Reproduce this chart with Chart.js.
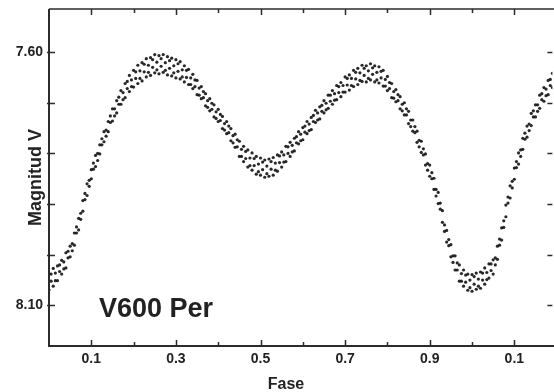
<!DOCTYPE html>
<html>
<head>
<meta charset="utf-8">
<title>V600 Per</title>
<script src="https://cdn.jsdelivr.net/npm/chart.js@4.4.0/dist/chart.umd.min.js"></script>
<style>
  html, body { margin: 0; padding: 0; background: #fff; }
  #lightcurve { display: block; }
</style>
</head>
<body>
<canvas id="lightcurve" width="554" height="392"></canvas>
<script>
"use strict";

var phases = [
  0.00, 0.01, 0.02, 0.03, 0.04, 0.05, 0.06, 0.07, 0.08, 0.09,
  0.10, 0.11, 0.12, 0.13, 0.14, 0.15, 0.16, 0.17, 0.18, 0.19,
  0.20, 0.21, 0.22, 0.23, 0.24, 0.25, 0.26, 0.27, 0.28, 0.29,
  0.30, 0.31, 0.32, 0.33, 0.34, 0.35, 0.36, 0.37, 0.38, 0.39,
  0.40, 0.41, 0.42, 0.43, 0.44, 0.45, 0.46, 0.47, 0.48, 0.49,
  0.50, 0.51, 0.52, 0.53, 0.54, 0.55, 0.56, 0.57, 0.58, 0.59,
  0.60, 0.61, 0.62, 0.63, 0.64, 0.65, 0.66, 0.67, 0.68, 0.69,
  0.70, 0.71, 0.72, 0.73, 0.74, 0.75, 0.76, 0.77, 0.78, 0.79,
  0.80, 0.81, 0.82, 0.83, 0.84, 0.85, 0.86, 0.87, 0.88, 0.89,
  0.90, 0.91, 0.92, 0.93, 0.94, 0.95, 0.96, 0.97, 0.98, 0.99,
  1.00, 1.01, 1.02, 1.03, 1.04, 1.05, 1.06, 1.07, 1.08, 1.09,
  1.10, 1.11, 1.12, 1.13, 1.14, 1.15, 1.16, 1.17, 1.18, 1.19
];

// bright edge of the scatter band (V mag)
var magUpper = [
  8.037, 8.027, 8.022, 8.011, 7.996, 7.983, 7.957, 7.928, 7.893, 7.860,
  7.832, 7.804, 7.783, 7.757, 7.737, 7.712, 7.696, 7.676, 7.662, 7.646,
  7.636, 7.626, 7.621, 7.613, 7.611, 7.605, 7.607, 7.605, 7.609, 7.612,
  7.615, 7.619, 7.627, 7.634, 7.644, 7.656, 7.668, 7.682, 7.692, 7.704,
  7.713, 7.727, 7.737, 7.751, 7.762, 7.776, 7.786, 7.793, 7.799, 7.806,
  7.809, 7.813, 7.811, 7.808, 7.803, 7.797, 7.786, 7.778, 7.770, 7.757,
  7.749, 7.737, 7.729, 7.715, 7.708, 7.696, 7.685, 7.676, 7.666, 7.660,
  7.649, 7.645, 7.636, 7.632, 7.626, 7.627, 7.623, 7.627, 7.629, 7.636,
  7.648, 7.662, 7.674, 7.688, 7.700, 7.717, 7.734, 7.756, 7.776, 7.801,
  7.823, 7.849, 7.877, 7.913, 7.952, 7.980, 8.002, 8.020, 8.030, 8.038,
  8.039, 8.036, 8.034, 8.026, 8.018, 8.010, 7.983, 7.947, 7.902, 7.864,
  7.829, 7.799, 7.770, 7.746, 7.721, 7.704, 7.685, 7.670, 7.656, 7.642
];

// faint edge of the scatter band (V mag)
var magLower = [
  8.069, 8.062, 8.051, 8.038, 8.026, 8.004, 7.981, 7.951, 7.914, 7.883,
  7.850, 7.826, 7.801, 7.777, 7.757, 7.736, 7.720, 7.703, 7.690, 7.678,
  7.669, 7.662, 7.657, 7.649, 7.646, 7.641, 7.643, 7.640, 7.645, 7.647,
  7.651, 7.653, 7.659, 7.664, 7.672, 7.684, 7.692, 7.706, 7.716, 7.728,
  7.737, 7.751, 7.761, 7.775, 7.788, 7.806, 7.816, 7.827, 7.833, 7.841,
  7.843, 7.847, 7.845, 7.843, 7.835, 7.827, 7.816, 7.806, 7.795, 7.781,
  7.773, 7.761, 7.753, 7.739, 7.732, 7.720, 7.711, 7.703, 7.694, 7.688,
  7.679, 7.675, 7.668, 7.664, 7.658, 7.659, 7.655, 7.659, 7.661, 7.667,
  7.676, 7.690, 7.698, 7.712, 7.724, 7.741, 7.756, 7.778, 7.798, 7.823,
  7.845, 7.871, 7.899, 7.936, 7.975, 8.004, 8.030, 8.052, 8.062, 8.070,
  8.072, 8.068, 8.066, 8.058, 8.046, 8.038, 8.009, 7.971, 7.925, 7.888,
  7.851, 7.821, 7.792, 7.768, 7.745, 7.728, 7.711, 7.697, 7.684, 7.670
];

// inner part of the band, read between the grid phases
var phasesMid = [
  0.005, 0.015, 0.025, 0.035, 0.045, 0.055, 0.065, 0.075, 0.085, 0.095,
  0.105, 0.115, 0.125, 0.135, 0.145, 0.155, 0.165, 0.175, 0.185, 0.195,
  0.205, 0.215, 0.225, 0.235, 0.245, 0.255, 0.265, 0.275, 0.285, 0.295,
  0.305, 0.315, 0.325, 0.335, 0.345, 0.355, 0.365, 0.375, 0.385, 0.395,
  0.405, 0.415, 0.425, 0.435, 0.445, 0.455, 0.465, 0.475, 0.485, 0.495,
  0.505, 0.515, 0.525, 0.535, 0.545, 0.555, 0.565, 0.575, 0.585, 0.595,
  0.605, 0.615, 0.625, 0.635, 0.645, 0.655, 0.665, 0.675, 0.685, 0.695,
  0.705, 0.715, 0.725, 0.735, 0.745, 0.755, 0.765, 0.775, 0.785, 0.795,
  0.805, 0.815, 0.825, 0.835, 0.845, 0.855, 0.865, 0.875, 0.885, 0.895,
  0.905, 0.915, 0.925, 0.935, 0.945, 0.955, 0.965, 0.975, 0.985, 0.995,
  1.005, 1.015, 1.025, 1.035, 1.045, 1.055, 1.065, 1.075, 1.085, 1.095,
  1.105, 1.115, 1.125, 1.135, 1.145, 1.155, 1.165, 1.175, 1.185
];
var magMidA = [
  8.052, 8.036, 8.033, 8.014, 8.006, 7.978, 7.957, 7.918, 7.891, 7.853,
  7.831, 7.800, 7.783, 7.754, 7.739, 7.712, 7.703, 7.680, 7.672, 7.655,
  7.652, 7.637, 7.639, 7.626, 7.630, 7.620, 7.628, 7.621, 7.632, 7.627,
  7.638, 7.635, 7.650, 7.651, 7.668, 7.671, 7.690, 7.696, 7.713, 7.718,
  7.735, 7.741, 7.759, 7.765, 7.787, 7.792, 7.810, 7.809, 7.824, 7.821,
  7.832, 7.825, 7.831, 7.819, 7.818, 7.803, 7.800, 7.784, 7.779, 7.762,
  7.758, 7.742, 7.737, 7.720, 7.717, 7.701, 7.697, 7.682, 7.680, 7.666,
  7.665, 7.652, 7.653, 7.641, 7.646, 7.637, 7.644, 7.640, 7.651, 7.654,
  7.672, 7.678, 7.696, 7.703, 7.724, 7.734, 7.759, 7.774, 7.803, 7.820,
  7.850, 7.871, 7.910, 7.941, 7.982, 8.002, 8.030, 8.037, 8.054, 8.050,
  8.058, 8.048, 8.050, 8.035, 8.031, 8.006, 7.981, 7.933, 7.898, 7.855,
  7.828, 7.793, 7.772, 7.742, 7.728, 7.704, 7.694, 7.673, 7.666
];
var magMidB = [
  8.038, 8.051, 8.020, 8.028, 7.993, 7.992, 7.945, 7.930, 7.879, 7.865,
  7.819, 7.814, 7.771, 7.766, 7.726, 7.726, 7.689, 7.694, 7.658, 7.668,
  7.639, 7.652, 7.624, 7.640, 7.615, 7.635, 7.613, 7.636, 7.617, 7.641,
  7.623, 7.649, 7.636, 7.664, 7.655, 7.685, 7.678, 7.709, 7.701, 7.731,
  7.723, 7.754, 7.746, 7.779, 7.773, 7.806, 7.796, 7.824, 7.810, 7.836,
  7.817, 7.840, 7.816, 7.833, 7.805, 7.817, 7.787, 7.797, 7.767, 7.775,
  7.746, 7.755, 7.725, 7.734, 7.705, 7.714, 7.685, 7.695, 7.668, 7.679,
  7.652, 7.666, 7.640, 7.656, 7.632, 7.652, 7.631, 7.655, 7.638, 7.667,
  7.660, 7.691, 7.684, 7.716, 7.712, 7.747, 7.747, 7.787, 7.791, 7.833,
  7.838, 7.884, 7.898, 7.954, 7.970, 8.015, 8.016, 8.052, 8.040, 8.065,
  8.043, 8.062, 8.036, 8.049, 8.018, 8.020, 7.969, 7.946, 7.886, 7.868,
  7.816, 7.806, 7.760, 7.755, 7.716, 7.717, 7.682, 7.686, 7.654
];

// axis ticks
var xTicks = [0.1, 0.2, 0.3, 0.4, 0.5, 0.6, 0.7, 0.8, 0.9, 1.0, 1.1];
var xTickLabels = ["0.1", "", "0.3", "", "0.5", "", "0.7", "", "0.9", "", "0.1"];
var yTicks = [7.6, 7.7, 7.8, 7.9, 8.0, 8.1];
var yTickLabels = ["7.60", "", "", "", "", "8.10"];

var FONT = '"Liberation Sans", Arial, Helvetica, sans-serif';
var INK = '#222';

function toPoints(xs, ys) {
    return xs.map(function (p, i) { return { x: p, y: ys[i] }; });
}

function labelFor(list, labels, value) {
    for (var i = 0; i < list.length; i++) {
        if (Math.abs(list[i] - value) < 0.001) return labels[i];
    }
    return '';
}

// keep the plot box exactly where the layout puts it
function fixBox(size) {
    return function (scale) {
        if (scale.isHorizontal()) scale.height = size; else scale.width = size;
        scale.paddingTop = 0;
        scale.paddingBottom = 0;
        scale.paddingLeft = 0;
        scale.paddingRight = 0;
    };
}

// Frame with inward ticks, plus the free texts
var framePlugin = {
    id: 'frame',
    beforeDraw: function (chart) {
        var ctx = chart.ctx;
        ctx.save();
        ctx.fillStyle = '#fff';
        ctx.fillRect(0, 0, chart.width, chart.height);
        ctx.restore();
    },
    afterDraw: function (chart) {
        var ctx = chart.ctx;
        var a = chart.chartArea;
        var xs = chart.scales.x, ys = chart.scales.y;
        ctx.save();
        ctx.strokeStyle = '#2b2b2b';
        ctx.lineWidth = 2;
        ctx.beginPath();
        ctx.moveTo(a.left, a.top);
        ctx.lineTo(a.left, a.bottom);
        ctx.lineTo(a.right + 2, a.bottom);
        ctx.stroke();
        ctx.lineWidth = 1.5;
        ctx.beginPath();
        ctx.moveTo(a.left, a.top);
        ctx.lineTo(a.right + 2, a.top);
        ctx.stroke();

        ctx.lineWidth = 1.5;
        ctx.beginPath();
        xTicks.forEach(function (v, i) {
            var px = Math.round(xs.getPixelForValue(v)) + 0.5;
            var len = xTickLabels[i] ? 6 : 4;
            ctx.moveTo(px, a.bottom);
            ctx.lineTo(px, a.bottom - len);
            ctx.moveTo(px, a.top);
            ctx.lineTo(px, a.top + len);
        });
        yTicks.forEach(function (v) {
            var py = Math.round(ys.getPixelForValue(v)) + 0.5;
            ctx.moveTo(a.left - 2, py);
            ctx.lineTo(a.left + 6, py);
            ctx.moveTo(a.right, py);
            ctx.lineTo(a.right - 5, py);
        });
        ctx.stroke();

        ctx.fillStyle = INK;
        ctx.font = 'bold 27px ' + FONT;
        ctx.textAlign = 'left';
        ctx.textBaseline = 'alphabetic';
        ctx.fillText('V600 Per', 99, 317);

        ctx.font = 'bold 16px ' + FONT;
        ctx.textAlign = 'center';
        ctx.textBaseline = 'middle';
        ctx.fillText('Fase', 286, 385);
        ctx.restore();
    }
};

var dotStyle = {
    showLine: false,
    pointRadius: 1.6,
    pointHoverRadius: 0,
    pointBorderWidth: 0,
    backgroundColor: 'rgba(18, 18, 18, 0.9)',
    borderColor: 'rgba(18, 18, 18, 0.9)'
};

var chart = new Chart(document.getElementById('lightcurve').getContext('2d'), {
    type: 'scatter',
    data: {
        datasets: [
            Object.assign({ label: 'V (a)', data: toPoints(phases, magUpper) }, dotStyle),
            Object.assign({ label: 'V (b)', data: toPoints(phasesMid, magMidA) }, dotStyle),
            Object.assign({ label: 'V (c)', data: toPoints(phasesMid, magMidB) }, dotStyle),
            Object.assign({ label: 'V (d)', data: toPoints(phases, magLower) }, dotStyle)
        ]
    },
    options: {
        responsive: false,
        animation: false,
        devicePixelRatio: 1,
        layout: { padding: { top: 9, right: 1, left: 0, bottom: 0 } },
        plugins: {
            legend: { display: false },
            tooltip: { enabled: false }
        },
        scales: {
            x: {
                type: 'linear',
                min: 0,
                max: 1.19,
                grid: { display: false, drawTicks: false },
                border: { display: false },
                ticks: {
                    stepSize: 0.1,
                    includeBounds: false,
                    autoSkip: false,
                    maxRotation: 0,
                    padding: 5,
                    color: INK,
                    font: { family: FONT, size: 14, weight: 'bold' },
                    callback: function (value) { return labelFor(xTicks, xTickLabels, value); }
                },
                afterFit: fixBox(46)
            },
            y: {
                type: 'linear',
                reverse: true,
                min: 7.515,
                max: 8.18,
                grid: { display: false, drawTicks: false },
                border: { display: false },
                ticks: {
                    stepSize: 0.1,
                    includeBounds: false,
                    autoSkip: false,
                    padding: 6,
                    color: INK,
                    font: { family: FONT, size: 14, weight: 'bold' },
                    callback: function (value) { return labelFor(yTicks, yTickLabels, value); }
                },
                title: {
                    display: true,
                    text: 'Magnitud V',
                    color: INK,
                    font: { family: FONT, size: 18, weight: 'bold' },
                    padding: { top: 25, bottom: 0 }
                },
                afterFit: fixBox(49)
            }
        }
    },
    plugins: [framePlugin]
});
</script>
</body>
</html>
